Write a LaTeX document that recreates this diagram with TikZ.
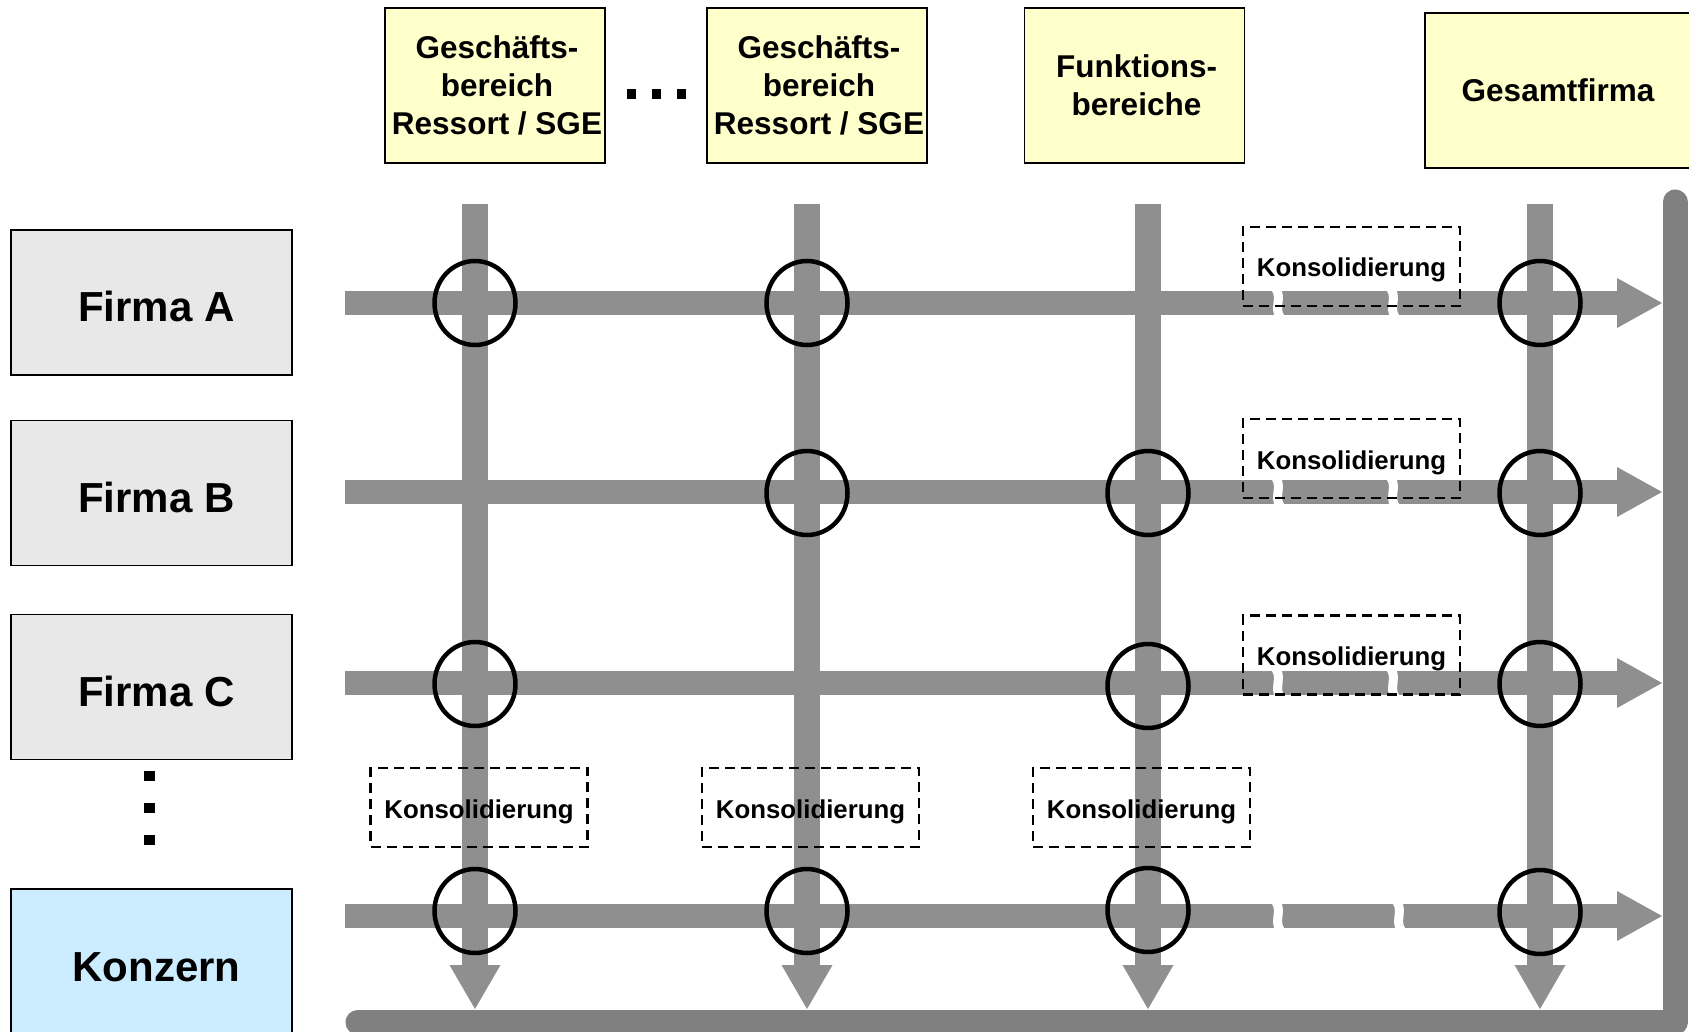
\documentclass[tikz,border=0pt]{standalone}
\usepackage{fontspec}
\setmainfont{Liberation Sans}
\usetikzlibrary{shapes.geometric}
\definecolor{barg}{RGB}{143,143,143}
\definecolor{lineg}{RGB}{128,128,128}
\definecolor{yel}{RGB}{255,255,204}
\definecolor{firm}{RGB}{232,232,232}
\definecolor{konz}{RGB}{204,236,255}
\begin{document}
\begin{tikzpicture}[x=1pt,y=-1pt,
  topbox/.style={draw=black, line width=1.5pt, fill=yel, minimum width=220pt, minimum height=155pt, align=center, inner sep=0pt, font=\fontsize{31.5}{38}\selectfont\bfseries},
  firmbox/.style={draw=black, line width=1.5pt, fill=firm, minimum width=281pt, minimum height=145pt, inner sep=0pt, text height=38pt, text depth=0pt, font=\fontsize{42}{50}\selectfont\bfseries},
  barline/.style={draw=barg, line width=24pt},
  vbarline/.style={draw=barg, line width=26pt},
  breakmark/.style={draw=white, line width=9pt},
  ring/.style={ellipse, draw=black, line width=4.5pt, minimum width=81pt, minimum height=84pt, inner sep=0pt},
  konsbox/.style={draw=black, line width=2.5pt, dash pattern=on 10pt off 6pt, minimum width=217pt, minimum height=79pt, inner sep=0pt, text height=25pt, text depth=4pt, font=\fontsize{25.8}{30}\selectfont\bfseries},
  dotsq/.style={fill=black, inner sep=0pt, minimum width=9pt, minimum height=10pt}
]
\useasboundingbox (0,0) rectangle (1689,1032);

% top boxes
\node[topbox] (g1) at (495,85.5) {\hspace*{4pt}Geschäfts-\\\hspace*{4pt}bereich\\\hspace*{4pt}Ressort / SGE};
\node[topbox] (g2) at (817,85.5) {\hspace*{4pt}Geschäfts-\\\hspace*{4pt}bereich\\\hspace*{4pt}Ressort / SGE};
\node[topbox] (fb) at (1134.5,85.5) {\hspace*{4pt}Funktions-\\\hspace*{4pt}bereiche};
\node[topbox, minimum width=266pt] (gf) at (1558,90.5) {Gesamtfirma};
\node[dotsq] (hd1) at (631,94) {};
\node[dotsq] (hd2) at (656,94) {};
\node[dotsq] (hd3) at (681,94) {};

% left boxes
\node[firmbox] (fa) at (151.5,302.5) {\hspace*{10pt}Firma A};
\node[firmbox] (fbb) at (151.5,493) {\hspace*{10pt}Firma B};
\node[firmbox] (fc) at (151.5,687) {\hspace*{10pt}Firma C};
\node[firmbox, fill=konz, text height=40pt] (kz) at (151.5,961.5) {\hspace*{10pt}Konzern};
\node[dotsq, minimum width=11pt] (vd1) at (149,776) {};
\node[dotsq, minimum width=11pt] (vd2) at (149,808) {};
\node[dotsq, minimum width=11pt] (vd3) at (149,840) {};

% big L line
\coordinate (L0) at (1675,202);
\coordinate (L1) at (1675,1022);
\coordinate (L2) at (358,1022);
\draw[lineg, line width=25pt, line cap=round, line join=round] (L0) -- (L1) -- (L2);

% horizontal bars
\foreach \n/\y in {A/303,B/492,C/683,K/916}{
  \coordinate (h\n0) at (345,\y);
  \coordinate (h\n1) at (1662,\y);
  \draw[barline] (h\n0) -- ([xshift=-44pt]h\n1);
  \fill[barg] (h\n1) -- ++(-45,-25) -- ++(0,50) -- cycle;
}
% vertical bars
\foreach \n/\x in {1/475,2/807,3/1148,4/1540}{
  \coordinate (v\n0) at (\x,204);
  \coordinate (v\n1) at (\x,1009);
  \draw[vbarline] (v\n0) -- ([yshift=43pt]v\n1);
  \fill[barg] (v\n1) -- ++(-25.5,-44) -- ++(51,0) -- cycle;
}
% breaks
\foreach \y in {303,492,683}{
  \foreach \x in {1278,1393}{
    \draw[breakmark] (\x-2,\y-14) .. controls (\x+4,\y-5) and (\x-4,\y+5) .. (\x+2,\y+14);
  }
}
\foreach \x in {1278,1399}{
  \draw[breakmark] (\x-2,916-14) .. controls (\x+4,916-5) and (\x-4,916+5) .. (\x+2,916+14);
}

% dashed boxes
\node[konsbox] (kA) at (1351.5,266.5) {Konsolidierung};
\node[konsbox] (kB) at (1351.5,458.5) {Konsolidierung};
\node[konsbox] (kC) at (1351.5,655) {Konsolidierung};
\node[konsbox] (k1) at (479,807.5) {Konsolidierung};
\node[konsbox] (k2) at (810.5,807.5) {Konsolidierung};
\node[konsbox] (k3) at (1141.5,807.5) {Konsolidierung};

% rings
\node[ring] (rA1) at (475,303) {};
\node[ring] (rA2) at (807,303) {};
\node[ring] (rA4) at (1540,303) {};
\node[ring] (rB2) at (807,493) {};
\node[ring] (rB3) at (1148,493) {};
\node[ring] (rB4) at (1540,493) {};
\node[ring] (rC1) at (475,684) {};
\node[ring] (rC3) at (1148,686) {};
\node[ring] (rC4) at (1540,684) {};
\node[ring] (rK1) at (475,911) {};
\node[ring] (rK2) at (807,911) {};
\node[ring] (rK3) at (1148,910) {};
\node[ring] (rK4) at (1540,912) {};
\end{tikzpicture}
\end{document}
